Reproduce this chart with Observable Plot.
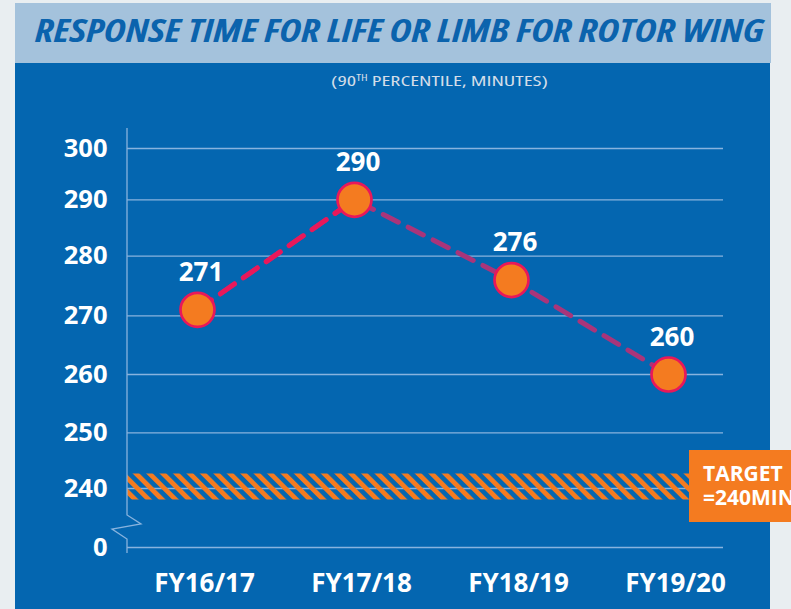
<!DOCTYPE html>
<html>
<head>
<meta charset="utf-8">
<script src="https://cdn.jsdelivr.net/npm/d3@7"></script>
<script src="https://cdn.jsdelivr.net/npm/@observablehq/plot@0.6"></script>
<style>
html, body { margin: 0; padding: 0; }
body { width: 791px; height: 609px; background: #e9eef1; position: relative; overflow: hidden; font-family: "Open Sans", sans-serif; }
#titlebar { position: absolute; left: 15px; top: 3px; width: 756px; height: 60px; background: #a4c2dc; }
#panel { position: absolute; left: 15px; top: 63px; width: 755px; height: 546px; background: #0466b0; }
#title { position: absolute; left: 35px; top: 14.4px; font-size: 32px; line-height: 1; font-weight: 700; font-style: italic; font-stretch: condensed; color: #0b63ad; white-space: nowrap; transform-origin: 0 0; }
#subtitle { position: absolute; left: 331px; top: 73.5px; font-size: 14px; line-height: 1; font-stretch: condensed; color: #d3dde8; white-space: nowrap; transform-origin: 0 0; z-index: 2; }
#subtitle sup { font-size: 8px; vertical-align: 5px; line-height: 0; }
#chart { position: absolute; left: 0; top: 63px; z-index: 1; }
</style>
</head>
<body>
<div id="titlebar"></div>
<div id="panel"></div>
<div id="title"></div>
<div id="subtitle">(90<sup>TH</sup> PERCENTILE, MINUTES)</div>
<div id="chart"></div>
<script>
// ---- data ----
const titleText = "RESPONSE TIME FOR LIFE OR LIMB FOR ROTOR WING";
const years = ["FY16/17", "FY17/18", "FY18/19", "FY19/20"];
const minutes = [271, 290, 276, 260];
const yTicks = [0, 240, 250, 260, 270, 280, 290, 300];
const target = 240;
const targetLabel = ["TARGET", "=240MIN"];

const data = years.map((year, i) => ({year, value: minutes[i]}));

document.getElementById("title").textContent = titleText;

const gridColor = "#88b3de";
const orange = "#f47b20";
const crimson = "#e8185a";

// broken (piecewise) value axis: distance above the zero line as drawn in the reference
const brokenAxis = d3.scaleLinear(yTicks, [0, 59, 114.7, 173, 231.7, 291.3, 347.7, 399]);

const chart = Plot.plot({
  width: 791,
  height: 546,
  marginTop: 85,
  marginRight: 68,
  marginBottom: 62,
  marginLeft: 127,
  style: {background: "transparent", color: "white", fontFamily: '"Open Sans", sans-serif', overflow: "visible"},
  x: {type: "point", domain: years, range: [196.4, 668.6], padding: 0, label: null},
  y: {type: "linear", transform: brokenAxis, domain: [0, 399], range: [484, 85], label: null},
  marks: [
    Plot.gridY(yTicks, {stroke: gridColor, strokeOpacity: 1, strokeWidth: 1.3}),
    Plot.ruleY([target], {stroke: "url(#hatch)", strokeWidth: 26, dy: -2}),
    Plot.axisY(yTicks, {tickSize: 0, tickPadding: 20, fontSize: 25.5, fontWeight: "bold", fill: "white", label: null}),
    Plot.axisX({tickSize: 0, tickPadding: 26, fontSize: 26, fontWeight: "bold", fill: "white", dx: 7, label: null}),
    Plot.line(data, {x: "year", y: "value", stroke: "#a9357a", strokeWidth: 5, strokeDasharray: "17 11"}),
    Plot.line(data.slice(0, 2), {x: "year", y: "value", stroke: crimson, strokeWidth: 5, strokeDasharray: "17 11"}),
    Plot.dot(data, {x: "year", y: "value", r: 17, fill: orange, stroke: crimson, strokeWidth: 2.7}),
    Plot.text(data, {x: "year", y: "value", text: d => String(d.value), dy: -37, dx: 3.5, fontSize: 26, fontWeight: "bold", fill: "white"})
  ]
});

const svg = d3.select(chart);
const yS = chart.scale("y");

// hatch pattern for target band
const defs = svg.insert("defs", ":first-child");
const pat = defs.append("pattern")
  .attr("id", "hatch")
  .attr("patternUnits", "userSpaceOnUse")
  .attr("width", 9.5).attr("height", 9.5)
  .attr("x", 2)
  .attr("patternTransform", "rotate(-45)");
pat.append("rect").attr("width", 4.8).attr("height", 9.5).attr("fill", orange);

// y-axis line with break
const ax = 127;
const yTop = yS.apply(brokenAxis(300)) - 20;
const y0 = yS.apply(brokenAxis(0));
svg.append("path")
  .attr("d", `M${ax},${yTop}V${y0 - 32}L${ax + 14},${y0 - 23}L${ax - 15},${y0 - 18}L${ax},${y0 - 8}V${y0 + 6}`)
  .attr("fill", "none")
  .attr("stroke", gridColor)
  .attr("stroke-width", 1.3);

// target box
const yt = yS.apply(brokenAxis(target));
const g = svg.append("g");
g.append("rect")
  .attr("x", 689).attr("y", yt - 38)
  .attr("width", 110).attr("height", 72)
  .attr("fill", orange);
g.selectAll("text").data(targetLabel).join("text")
  .attr("x", 703)
  .attr("y", (d, i) => yt - 7 + i * 24)
  .attr("text-anchor", "start")
  .attr("fill", "white")
  .attr("font-size", 21)
  .attr("font-weight", "bold")
  .attr("font-family", '"Open Sans", sans-serif')
  .text(d => d);

document.getElementById("chart").appendChild(chart);

// fit title and subtitle widths
function fit(id, w) {
  const el = document.getElementById(id);
  const cur = el.getBoundingClientRect().width;
  if (cur > 0) el.style.transform = `scaleX(${w / cur})`;
}
fit("title", 729);
fit("subtitle", 217);
</script>
</body>
</html>
